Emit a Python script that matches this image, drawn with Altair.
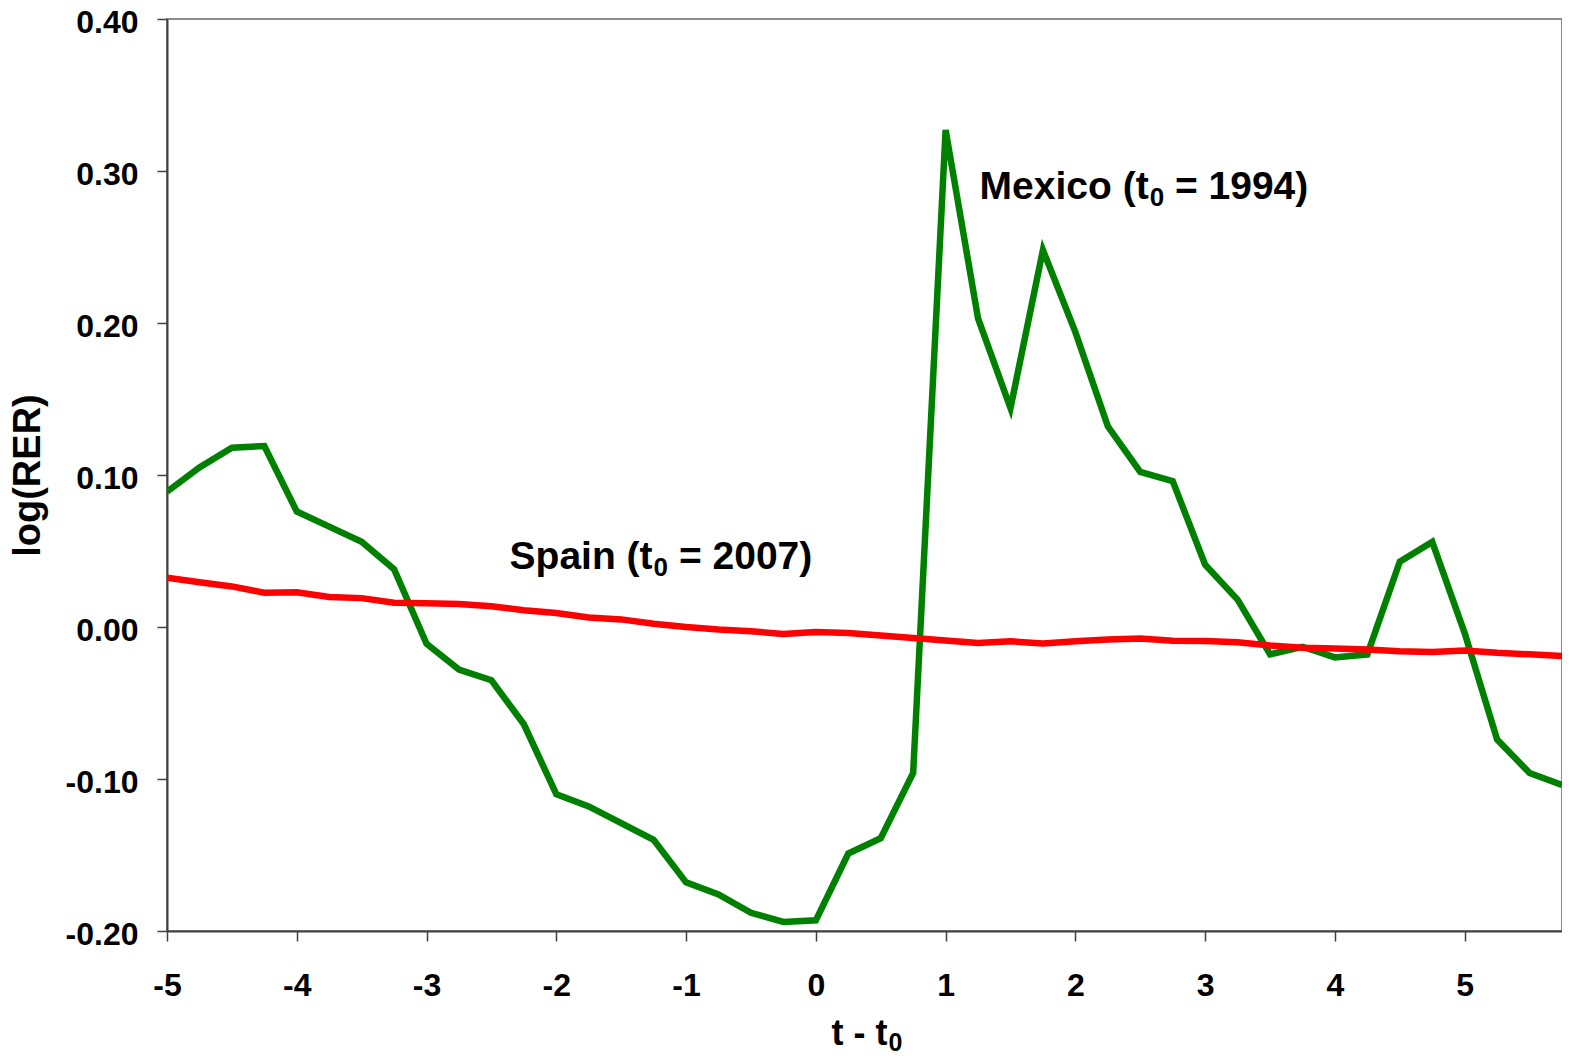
import altair as alt
import pandas as pd

# quarters relative to crisis year t0
t_values = [-5.0, -4.75, -4.5, -4.25, -4.0, -3.75, -3.5, -3.25, -3.0, -2.75, -2.5,
            -2.25, -2.0, -1.75, -1.5, -1.25, -1.0, -0.75, -0.5, -0.25, 0.0, 0.25,
            0.5, 0.75, 1.0, 1.25, 1.5, 1.75, 2.0, 2.25, 2.5, 2.75, 3.0, 3.25, 3.5,
            3.75, 4.0, 4.25, 4.5, 4.75, 5.0, 5.25, 5.5, 5.75]

mexico = [0.089, 0.105, 0.118, 0.119, 0.076, 0.066, 0.056, 0.038, -0.011, -0.028,
          -0.035, -0.064, -0.110, -0.118, -0.129, -0.140, -0.168, -0.176, -0.188,
          -0.194, -0.193, -0.149, -0.139, -0.096, 0.327, 0.203, 0.144, 0.248, 0.194,
          0.132, 0.102, 0.096, 0.041, 0.018, -0.018, -0.013, -0.020, -0.018, 0.043,
          0.056, -0.004, -0.074, -0.096, -0.104]

spain = [0.0325, 0.0295, 0.0267, 0.0225, 0.0229, 0.0197, 0.0190, 0.0160, 0.0157,
         0.0151, 0.0136, 0.0110, 0.0092, 0.0062, 0.0050, 0.0022, 0.0000, -0.0017,
         -0.0028, -0.0046, -0.0033, -0.0039, -0.0056, -0.0072, -0.0089, -0.0105,
         -0.0094, -0.0109, -0.0094, -0.0083, -0.0076, -0.0090, -0.0092, -0.0100,
         -0.0122, -0.0137, -0.0142, -0.0148, -0.0159, -0.0164, -0.0155, -0.0170,
         -0.0180, -0.0190]

series_names = ["Mexico", "Spain"]
series_colors = ["#008000", "#FF0000"]

x_ticks = [-5, -4, -3, -2, -1, 0, 1, 2, 3, 4, 5]
y_ticks = [-0.2, -0.1, 0.0, 0.1, 0.2, 0.3, 0.4]

# in-plot labels: head text, subscript, tail text, anchor (t, value)
label_heads = ["Mexico (t", "Spain (t"]
label_subs = ["0", "0"]
label_tails = ["= 1994)", "= 2007)"]
label_x = [1.262, -2.360]
label_y = [0.2815, 0.0383]

x_title_head = "t - t"
x_title_sub = "0"
y_title = "log(RER)"

FONT = "Liberation Sans"
W, H = 1395, 912
ANN_SIZE, SUB_SIZE = 39, 26
XT_SIZE, XT_SUB = 36, 25

# Arial/Liberation Sans Bold advance widths (per 1000 em)
ADV = {"M": 833, "e": 556, "x": 556, "i": 278, "c": 556, "o": 611, " ": 278,
       "(": 333, "t": 333, "S": 667, "p": 611, "a": 556, "n": 611, "-": 333,
       "=": 584, ")": 333, "0": 556}


def text_width(s, size):
    return sum(ADV.get(ch, 556) for ch in s) * size / 1000.0


rows = []
for t, m, s in zip(t_values, mexico, spain):
    rows.append({"t": t, "value": m, "series": "Mexico"})
    rows.append({"t": t, "value": s, "series": "Spain"})
df = pd.DataFrame(rows)

x_scale = alt.Scale(domain=[-5, 5.75], nice=False, zero=False)
y_scale = alt.Scale(domain=[-0.2, 0.4], nice=False, zero=False)

x_label_expr = "datum.value < 0 ? '-' + format(-datum.value, 'd') : format(datum.value, 'd')"
y_label_expr = "datum.value < -0.0001 ? '-' + format(-datum.value, '.2f') : format(abs(datum.value), '.2f')"

lines = alt.Chart(df).mark_line(strokeWidth=6.5, clip=True).encode(
    x=alt.X("t:Q", scale=x_scale,
            axis=alt.Axis(values=x_ticks, labelExpr=x_label_expr, title=None,
                          labelBaseline="alphabetic", labelPadding=54,
                          labelAlign="center")),
    y=alt.Y("value:Q", scale=y_scale,
            axis=alt.Axis(values=y_ticks, labelExpr=y_label_expr, title=y_title,
                          titleAngle=-90, titleX=-128, titleY=H / 2,
                          titleBaseline="alphabetic", titleAlign="center",
                          labelBaseline="alphabetic", labelOffset=13,
                          labelPadding=19)),
    color=alt.Color("series:N",
                    scale=alt.Scale(domain=series_names, range=series_colors),
                    legend=None),
    detail="series:N",
)

layers = [lines]
space_w = text_width(" ", ANN_SIZE)
for head, sub, tail, lx, ly in zip(label_heads, label_subs, label_tails, label_x, label_y):
    ldf = pd.DataFrame({"t": [lx], "value": [ly], "head": [head], "sub": [sub], "tail": [tail]})
    head_w = text_width(head, ANN_SIZE)
    sub_w = text_width(sub, SUB_SIZE)
    base = alt.Chart(ldf)
    enc = dict(x=alt.X("t:Q", scale=x_scale), y=alt.Y("value:Q", scale=y_scale))
    layers.append(base.mark_text(align="left", baseline="alphabetic", font=FONT,
                                 fontSize=ANN_SIZE, fontWeight="bold", color="black")
                  .encode(text="head:N", **enc))
    layers.append(base.mark_text(align="left", baseline="alphabetic", font=FONT,
                                 fontSize=SUB_SIZE, fontWeight="bold", color="black",
                                 dx=head_w + 1, dy=7)
                  .encode(text="sub:N", **enc))
    layers.append(base.mark_text(align="left", baseline="alphabetic", font=FONT,
                                 fontSize=ANN_SIZE, fontWeight="bold", color="black",
                                 dx=head_w + sub_w + space_w + 1)
                  .encode(text="tail:N", **enc))

# x-axis title with subscript, centred under the plot
xt_head_w = text_width(x_title_head, XT_SIZE)
xt_sub_w = text_width(x_title_sub, XT_SUB)
xt_start = W / 2 - (xt_head_w + xt_sub_w) / 2 + 2
xt_base = H + 114
xtdf = pd.DataFrame({"head": [x_title_head], "sub": [x_title_sub]})
layers.append(alt.Chart(xtdf).mark_text(align="left", baseline="alphabetic", font=FONT,
                                        fontSize=XT_SIZE, fontWeight="bold", color="black")
              .encode(text="head:N", x=alt.value(xt_start), y=alt.value(xt_base)))
layers.append(alt.Chart(xtdf).mark_text(align="left", baseline="alphabetic", font=FONT,
                                        fontSize=XT_SUB, fontWeight="bold", color="black")
              .encode(text="sub:N", x=alt.value(xt_start + xt_head_w + 1),
                      y=alt.value(xt_base + 6)))

chart = alt.layer(*layers).properties(
    width=W, height=H,
    autosize=alt.AutoSizeParams(type="none"),
    padding={"left": 159, "top": 11, "right": 0, "bottom": 125},
    background="white",
).configure_view(
    stroke="#8c8c8c", strokeWidth=2
).configure_axis(
    grid=False,
    domainColor="#404040", domainWidth=2,
    tickColor="#404040", tickWidth=1.5, tickSize=10,
    labelFont=FONT, labelFontSize=32, labelFontWeight="bold", labelColor="black",
    titleFont=FONT, titleFontSize=38, titleFontWeight="bold", titleColor="black",
    labelFlush=False, labelOverlap=False,
)

chart.save("out.html", embed_options={"renderer": "svg", "actions": False})
